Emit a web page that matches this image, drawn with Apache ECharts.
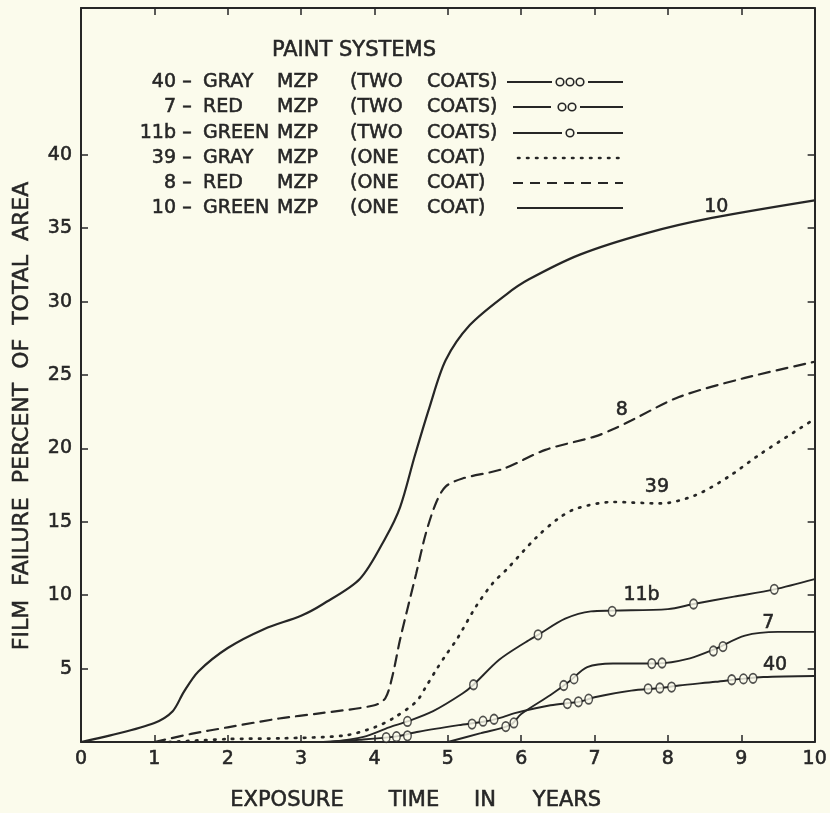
<!DOCTYPE html>
<html><head><meta charset="utf-8">
<script src="https://cdn.jsdelivr.net/npm/echarts@6/dist/echarts.min.js"></script>
<style>html,body{margin:0;padding:0;background:#fbfbec;}#c{width:830px;height:813px;}</style>
</head><body><div id="c"></div>
<script>
// ---------- DATA ----------
const xTickValues = [0,1,2,3,4,5,6,7,8,9,10];
const yTickLabels = [5,10,15,20,25,30,35,40];

// 10 - GREEN MZP (ONE COAT)  solid
const s10 = [[0,0],[0.4,0.45],[1,1.3],[1.25,2.1],[1.4,3.4],[1.6,4.8],[2,6.4],[2.5,7.7],[3,8.6],[3.3,9.4],[3.8,11.1],[4.15,13.9],[4.35,16.0],[4.55,19.5],[4.75,22.8],[4.97,26.0],[5.3,28.4],[5.8,30.5],[6.1,31.5],[6.8,33.2],[7.7,34.65],[8.6,35.7],[10,36.9]];
// 8 - RED MZP (ONE COAT)  dashed
const s8 = [[1,0],[1.5,0.55],[2,1.0],[2.7,1.6],[3.25,1.95],[4.0,2.5],[4.15,3.0],[4.25,4.6],[4.35,7.0],[4.57,11.5],[4.7,14.2],[4.84,16.3],[4.97,17.4],[5.2,17.95],[5.75,18.6],[6.33,19.9],[7.0,20.8],[7.25,21.3],[7.5,21.9],[8.15,23.5],[9.05,24.8],[10,25.9]];
// 39 - GRAY MZP (ONE COAT)  dotted
const s39 = [[1.2,0],[2,0.2],[2.75,0.25],[3.6,0.45],[4.0,1.0],[4.25,1.6],[4.57,2.75],[4.7,3.75],[4.84,4.9],[4.97,5.9],[5.13,7.05],[5.38,9.2],[5.61,10.8],[5.81,11.8],[6.2,13.9],[6.5,15.2],[6.75,15.9],[7.25,16.35],[7.9,16.25],[8.37,16.8],[8.82,18.05],[9.27,19.65],[10,22]];
// 11b - GREEN MZP (TWO COATS)
const s11b = [[3.4,0],[3.85,0.35],[4.2,1.0],[4.45,1.4],[4.8,2.1],[5.2,3.3],[5.35,3.9],[5.7,5.6],[6.06,6.8],[6.23,7.3],[6.6,8.4],[6.95,8.9],[7.25,8.95],[8.0,9.05],[8.35,9.4],[8.9,9.9],[9.45,10.4],[10,11.1]];
// 7 - RED MZP (TWO COATS)
const s7 = [[5.0,0],[5.45,0.6],[5.85,1.15],[6.0,1.9],[6.4,3.2],[6.65,4.1],[6.9,5.1],[7.25,5.35],[7.85,5.35],[8.3,5.7],[8.65,6.35],[9.05,7.25],[9.5,7.5],[10,7.5]];
// 40 - GRAY MZP (TWO COATS)
const s40 = [[3.3,0],[3.8,0.15],[4.3,0.38],[4.6,0.7],[5.15,1.15],[5.5,1.4],[5.75,1.7],[5.9,1.95],[6.4,2.5],[6.8,2.75],[7.0,3.05],[7.5,3.5],[7.9,3.68],[8.15,3.85],[8.65,4.1],[9.0,4.3],[9.3,4.43],[10,4.5]];

// circle markers along the two-coat curves
const m40 = [[4.16,0.3],[4.30,0.36],[4.45,0.42],[5.33,1.22],[5.48,1.42],[5.63,1.55],[6.63,2.62],[6.78,2.74],[6.92,2.92],[7.73,3.62],[7.89,3.68],[8.05,3.74],[8.87,4.24],[9.03,4.3],[9.16,4.34]];
const m7 = [[5.79,1.05],[5.90,1.3],[6.58,3.85],[6.72,4.3],[7.78,5.34],[7.92,5.38],[8.62,6.2],[8.75,6.5]];
const m11b = [[4.45,1.4],[5.35,3.9],[6.23,7.3],[7.24,8.9],[8.35,9.4],[9.45,10.4]];

// curve labels (data coordinates)
const curveLabelText = ['10','8','39','11b','7','40'];
const curveLabelPos = [[8.66,36.45],[7.37,22.6],[7.85,17.4],[7.64,10.0],[9.37,8.07],[9.46,5.23]];

// legend
const legendTitle = 'PAINT SYSTEMS';
const legendNums = ['40','7','11b','39','8','10'];
const legendColors = ['GRAY','RED','GREEN','GRAY','RED','GREEN'];
const legendCoatCount = ['(TWO','(TWO','(TWO','(ONE','(ONE','(ONE'];
const legendCoatWord = ['COATS)','COATS)','COATS)','COAT)','COAT)','COAT)'];
const legendKeys = ['ooo','oo','o','dotted','dashed','solid'];

const xTitleWords = ['EXPOSURE','TIME','IN','YEARS'];
const yTitle = 'FILM  FAILURE  PERCENT  OF  TOTAL  AREA';

// ---------- STYLE ----------
const INK = '#262626', BG = '#fbfbec', FONT = 'DejaVu Sans';
const TB = 0.55; // slight emboldening of lettering
const chart = echarts.init(document.getElementById('c'), null, {renderer:'canvas'});

function lineSeries(data, type, width) {
  return {type:'line', data, xAxisIndex:0, yAxisIndex:0, showSymbol:false, symbol:'none',
    smooth:0.3, silent:true, z:2,
    lineStyle:{color:INK, width:width, type:type, cap: type==='solid'?'butt':'round'}};
}
function markerSeries(data) {
  return {type:'scatter', data, xAxisIndex:0, yAxisIndex:0, symbol:'circle', symbolSize:[7.5,9.5],
    silent:true, z:5, itemStyle:{color:BG, borderColor:INK, borderWidth:1.6}};
}

const tStyle = (text, x, y, align, size, rot) => ({type:'text', x, y, rotation: rot||0, silent:true, z:10,
  style:{text, fill:INK, stroke:INK, lineWidth:TB, font: (size||19)+'px "'+FONT+'"', textAlign:align, textVerticalAlign:'middle', align:align, verticalAlign:'middle'}});

// legend graphics
const rowY = [82,107,133,158,183,208];
const g = [];
g.push(tStyle(legendTitle, 354, 51, 'center', 21));
legendNums.forEach((n,i)=>{
  const y = rowY[i];
  g.push(tStyle(n, 176, y, 'right'));
  g.push(tStyle('–', 187, y, 'center'));
  g.push(tStyle(legendColors[i], 203, y, 'left'));
  g.push(tStyle('MZP', 277, y, 'left'));
  g.push(tStyle(legendCoatCount[i], 350, y, 'left'));
  g.push(tStyle(legendCoatWord[i], 427, y, 'left'));
  const key = legendKeys[i];
  const ln = (x1,x2,dash) => ({type:'line', silent:true, shape:{x1,y1:y,x2,y2:y},
    style:{stroke:INK, lineWidth: dash==='dot'?2.6:2, lineDash: dash==='dot'?[1.5,7.5]:(dash==='dash'?[10,7]:null), lineCap: dash==='dot'?'round':'butt'}});
  const circ = (cx) => ({type:'circle', silent:true, shape:{cx, cy:y, r:3.8}, style:{fill:BG, stroke:INK, lineWidth:1.6}});
  if (key==='ooo') { g.push(ln(507,552)); [560,570,580].forEach(c=>g.push(circ(c))); g.push(ln(588,623)); }
  else if (key==='oo') { g.push(ln(513,551)); [562,572].forEach(c=>g.push(circ(c))); g.push(ln(580,623)); }
  else if (key==='o') { g.push(ln(513,562)); g.push(circ(570)); g.push(ln(577,623)); }
  else if (key==='dotted') g.push(ln(518,623,'dot'));
  else if (key==='dashed') g.push(ln(513,623,'dash'));
  else g.push(ln(517,623));
});
const xTitleCenters = [287, 414, 485, 567];
xTitleWords.forEach((w,i)=> g.push(tStyle(w, xTitleCenters[i], 801, 'center', 21)));
g.push(tStyle(yTitle, 22, 416, 'center', 22, Math.PI/2));

const axisCommon = {
  min:0, axisLine:{show:true, onZero:false, lineStyle:{color:INK, width:2}},
  splitLine:{show:false}
};
const tick = (vals) => ({show:true, inside:true, length:7, lineStyle:{color:INK, width:1.5}, customValues: vals});
const lbl = (vals, margin) => ({show:true, color:INK, fontSize:19, fontFamily:FONT, margin,
  textBorderColor:INK, textBorderWidth:TB, customValues: vals});

chart.setOption({
  backgroundColor: BG,
  animation:false,
  grid:{left:81, right:13, top:8, bottom:71, containLabel:false},
  xAxis:[
    Object.assign({type:'value', position:'bottom', max:10, interval:1,
      axisTick:tick(xTickValues), axisLabel:lbl(xTickValues, 8)}, axisCommon),
    Object.assign({type:'value', position:'top', max:10, interval:1,
      axisTick:tick(xTickValues), axisLabel:{show:false}}, axisCommon)
  ],
  yAxis:[
    Object.assign({type:'value', position:'left', max:50, interval:5,
      axisTick:tick(yTickLabels), axisLabel:lbl(yTickLabels, 9)}, axisCommon),
    Object.assign({type:'value', position:'right', max:50, interval:5,
      axisTick:tick(yTickLabels), axisLabel:{show:false}}, axisCommon)
  ],
  series:[
    lineSeries(s10,'solid',2.2),
    lineSeries(s8,[11,7],2.2),
    lineSeries(s39,[1.5,7.5],2.7),
    lineSeries(s11b,'solid',1.9),
    lineSeries(s7,'solid',1.9),
    lineSeries(s40,'solid',1.9),
    markerSeries(m40), markerSeries(m7), markerSeries(m11b)
  ],
  graphic:g
});

// curve labels placed through the chart's own scales
const labelGraphics = curveLabelText.map((t,i)=>{
  const p = chart.convertToPixel({xAxisIndex:0, yAxisIndex:0}, curveLabelPos[i]);
  return tStyle(t, p[0], p[1], 'center', 19);
});
chart.setOption({graphic: g.concat(labelGraphics)});
</script>
</body></html>
